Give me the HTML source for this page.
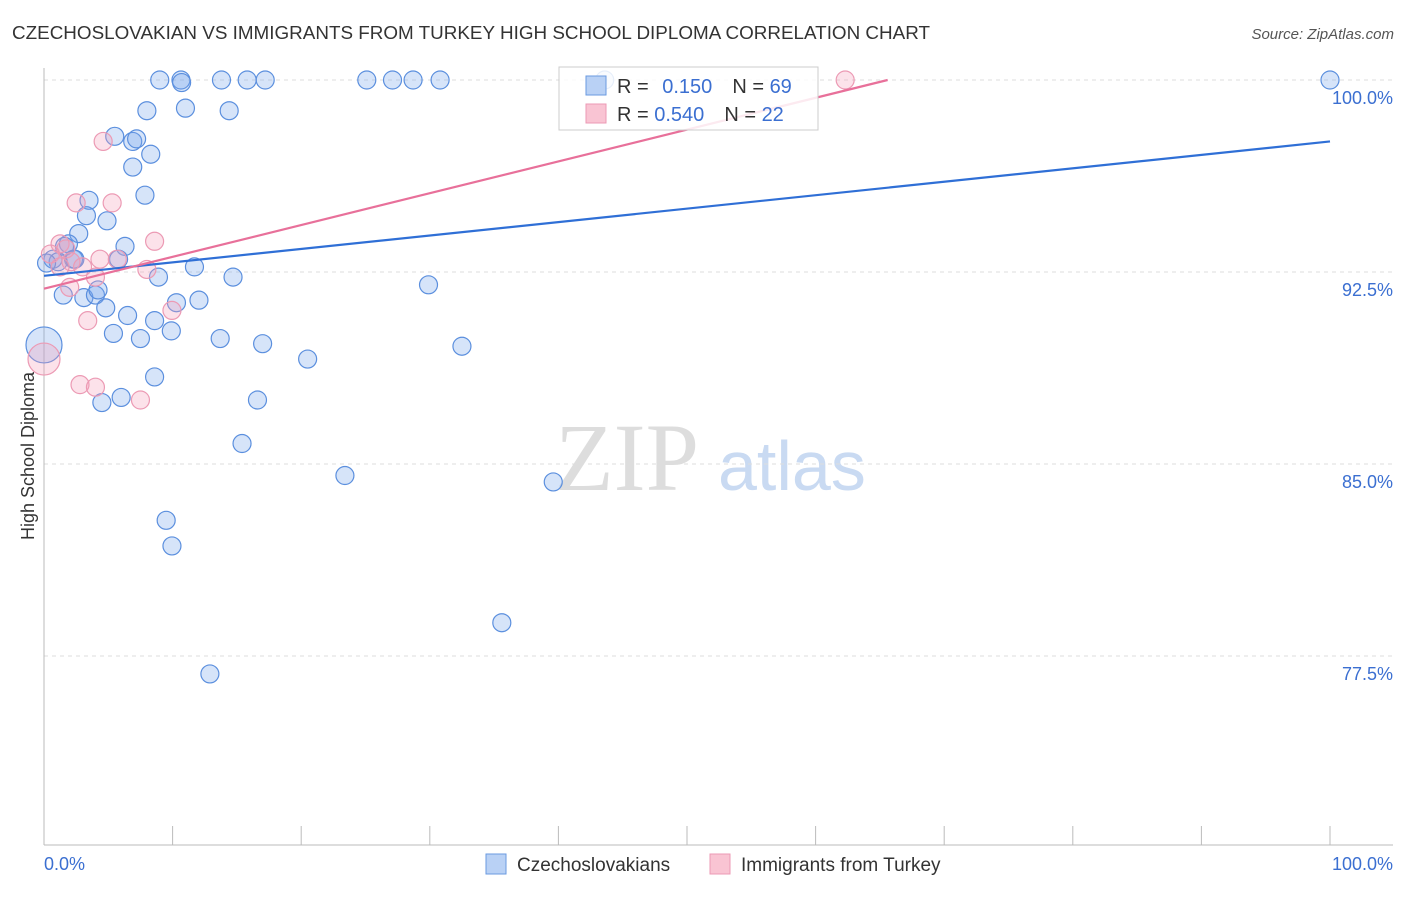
<!DOCTYPE html>
<html><head><meta charset="utf-8"><style>
body{margin:0;background:#fff;font-family:"Liberation Sans",sans-serif;}
</style></head><body>
<svg id="c" width="1406" height="892" xmlns="http://www.w3.org/2000/svg" font-family="Liberation Sans, sans-serif">
<text x="12" y="39" font-size="18" fill="#333" textLength="918" lengthAdjust="spacingAndGlyphs">CZECHOSLOVAKIAN VS IMMIGRANTS FROM TURKEY HIGH SCHOOL DIPLOMA CORRELATION CHART</text>
<text x="1394" y="39" font-size="15" fill="#555" text-anchor="end" font-style="italic">Source: ZipAtlas.com</text>
<text x="555" y="490" font-size="96" fill="#ddd" font-family="Liberation Serif, serif">ZIP</text>
<text x="718" y="490" font-size="70" fill="#c9daf2">atlas</text>
<text transform="translate(34,456) rotate(-90)" font-size="18" fill="#333" text-anchor="middle">High School Diploma</text>
<g id="grid"></g><g id="axes"></g><g id="pts"></g><g id="lines"></g>
<g>
<rect x="559" y="67" width="259" height="63" fill="rgba(255,255,255,0.85)" stroke="#ccc"/>
<rect x="586" y="76" width="20" height="19" fill="#b9d1f5" stroke="#6a9ae0"/>
<rect x="586" y="104" width="20" height="19" fill="#f9c4d3" stroke="#ec9ab4"/>
<text x="617" y="93" font-size="20" fill="#333">R = <tspan fill="#3b6fd1" dx="8">0.150</tspan><tspan dx="20">N = </tspan><tspan fill="#3b6fd1">69</tspan></text>
<text x="617" y="121" font-size="20" fill="#333">R = <tspan fill="#3b6fd1">0.540</tspan><tspan dx="20">N = </tspan><tspan fill="#3b6fd1">22</tspan></text>
</g>
<g>
<rect x="486" y="854" width="20" height="20" fill="#b9d1f5" stroke="#6a9ae0"/>
<text x="517" y="871" font-size="19" fill="#333">Czechoslovakians</text>
<rect x="710" y="854" width="20" height="20" fill="#f9c4d3" stroke="#ec9ab4"/>
<text x="741" y="871" font-size="19" fill="#333">Immigrants from Turkey</text>
</g>
</svg>
<script>
const blueX=[9.0,10.65,10.7,13.8,15.8,17.2,25.1,27.1,28.7,30.8,43.6,100,8.0,11.0,14.4,5.5,6.9,7.2,8.3,6.9,7.85,3.5,3.3,4.9,2.7,6.3,1.9,1.6,0.7,1.1,0.2,2.3,2.4,5.8,11.7,8.9,14.7,29.9,1.5,3.1,4.0,4.2,4.8,6.5,8.6,10.3,12.05,5.4,7.5,9.9,13.7,17.0,20.5,32.5,0,8.6,4.5,6.0,16.6,15.4,23.4,39.6,9.5,9.95,35.6,12.9];
const blueY=[100,100,99.9,100,100,100,100,100,100,100,100,100,98.8,98.9,98.8,97.8,97.6,97.7,97.1,96.6,95.5,95.3,94.7,94.5,94.0,93.5,93.6,93.5,93.0,92.9,92.85,93.0,93.0,93.0,92.7,92.3,92.3,92.0,91.6,91.5,91.6,91.8,91.1,90.8,90.6,91.3,91.4,90.1,89.9,90.2,89.9,89.7,89.1,89.6,89.65,88.4,87.4,87.6,87.5,85.8,84.55,84.3,82.8,81.8,78.8,76.8];
const blueR=blueX.map((v,i)=>i===54?18:9);
const pinkX=[4.6,2.5,5.3,8.6,1.25,1.7,0.5,2.1,3.0,4.35,5.7,8.0,4.0,2.0,3.4,9.95,2.8,4.0,7.5,0,62.3,1.25];
const pinkY=[97.6,95.2,95.2,93.7,93.6,93.4,93.2,92.9,92.7,93.0,93.0,92.6,92.3,91.9,90.6,91.0,88.1,88.0,87.5,89.1,100,92.7];
const pinkR=pinkX.map((v,i)=>i===19?16:9);
const blueTrend=[92.35,97.6];
const pinkTrend=[91.85,65.6];
const yTicks=[100,92.5,85,77.5];
const yTickLabels=["100.0%","92.5%","85.0%","77.5%"];
const xTicks=[0,10,20,30,40,50,60,70,80,90,100];
const X=v=>44+v*12.86, Y=v=>80+(100-v)*25.6;
const NS="http://www.w3.org/2000/svg";
function mk(p,t,a){const e=document.createElementNS(NS,t);for(const k in a)e.setAttribute(k,a[k]);document.getElementById(p).appendChild(e);return e;}
yTicks.forEach((t,i)=>{
 const l=mk('grid','line',{x1:44,x2:1393,y1:Y(t),y2:Y(t),stroke:'#ddd','stroke-dasharray':'4,4'});
 
 
 const tx=mk('grid','text',{x:1393,y:Y(t)+24,'font-size':18,fill:'#3b6fd1','text-anchor':'end'});
 tx.textContent=yTickLabels[i];
 
 
});
const ax=mk('axes','line',{x1:44,x2:1393,y1:845,y2:845,stroke:'#bbb'});


const ay=mk('axes','line',{x1:44,x2:44,y1:68,y2:845,stroke:'#bbb'});


xTicks.forEach(t=>{const l=mk('axes','line',{x1:X(t),x2:X(t),y1:826,y2:845,stroke:'#bbb'});
 
 });
const x0=mk('axes','text',{x:44,y:870,'font-size':18,fill:'#3b6fd1'});x0.textContent='0.0%';


const x1=mk('axes','text',{x:1393,y:870,'font-size':18,fill:'#3b6fd1','text-anchor':'end'});x1.textContent='100.0%';


blueX.forEach((v,i)=>{const c=mk('pts','circle',{cx:X(v),cy:Y(blueY[i]),r:blueR[i],fill:'rgba(120,165,235,0.3)',stroke:'#5b8fde','stroke-width':1.2});
 
 });
pinkX.forEach((v,i)=>{const c=mk('pts','circle',{cx:X(v),cy:Y(pinkY[i]),r:pinkR[i],fill:'rgba(245,160,185,0.3)',stroke:'#ec9ab4','stroke-width':1.2});
 
 });
const bl=mk('lines','line',{x1:X(0),y1:Y(blueTrend[0]),x2:X(100),y2:Y(blueTrend[1]),stroke:'#2f6fd6','stroke-width':2.2});


const pl=mk('lines','line',{x1:X(0),y1:Y(pinkTrend[0]),x2:X(pinkTrend[1]),y2:Y(100),stroke:'#e8709a','stroke-width':2.2});


</script>
</body></html>
